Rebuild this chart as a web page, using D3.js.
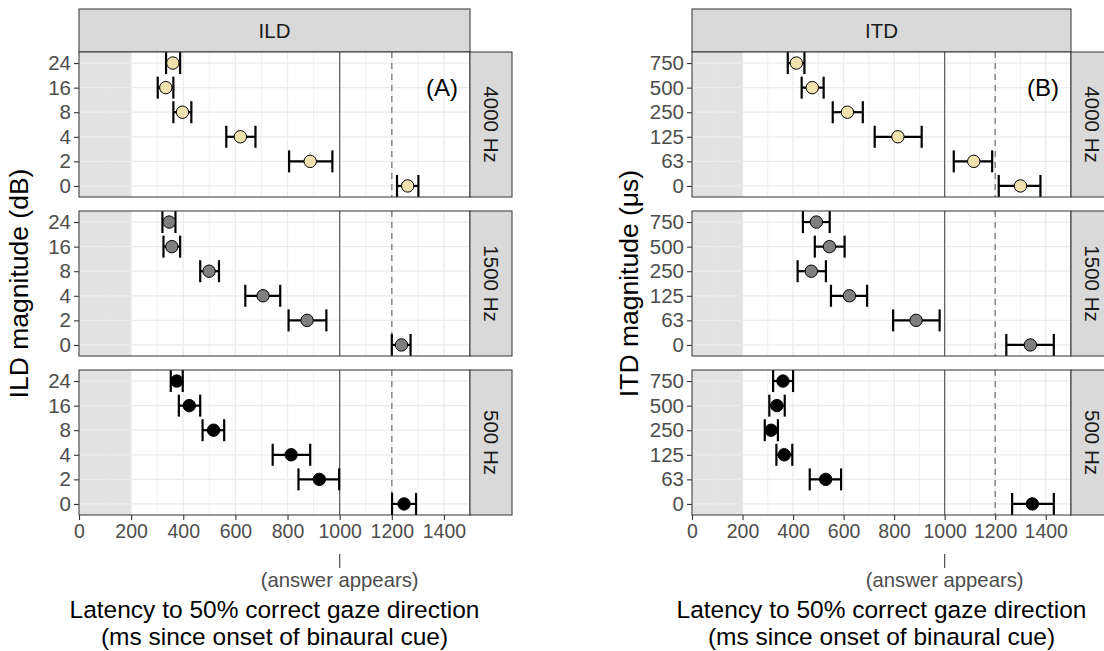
<!DOCTYPE html>
<html><head><meta charset="utf-8">
<script src="https://cdn.jsdelivr.net/npm/d3@7"></script>
<style>body{margin:0;background:#fff}svg{display:block;font-family:"Liberation Sans",Arial,sans-serif}</style>
</head><body>
<svg id="c" width="1104" height="651"></svg>
<script>
// ---- data ----
const freqs = ["4000 Hz", "1500 Hz", "500 Hz"];
const ildLevels = ["24", "16", "8", "4", "2", "0"];
const itdLevels = ["750", "500", "250", "125", "63", "0"];
const xTicks = [0, 200, 400, 600, 800, 1000, 1200, 1400];
// each row: [mean, lower, upper] in ms, in level order
const ild4000 = [[360,334,388],[333,302,362],[397,362,431],[619,565,677],[887,806,972],[1261,1220,1302]];
const ild1500 = [[346,320,370],[356,324,388],[499,465,537],[706,638,772],[875,804,949],[1237,1200,1272]];
const ild500  = [[375,352,398],[423,383,465],[516,474,557],[814,743,887],[922,842,998],[1247,1201,1293]];
const itd4000 = [[413,379,445],[476,434,521],[615,557,676],[815,723,909],[1115,1036,1188],[1300,1214,1379]];
const itd1500 = [[492,439,545],[544,486,604],[472,418,530],[623,550,693],[887,796,980],[1339,1244,1432]];
const itd500  = [[360,321,400],[336,306,367],[313,288,340],[365,334,397],[529,466,590],[1347,1267,1432]];
const pointColors = ["#F1E1AF", "#7f7f7f", "#000000"];

const svg = d3.select("#c");
const panelTops = [52, 211, 370];
const panelH = 145;
const FF = "Liberation Sans, Arial, sans-serif";

function facet(cfg) {
  const x = d3.scaleLinear().domain([0, 1500]).range([cfg.x0, cfg.x1]);
  const g = svg.append("g");
  // top strip
  g.append("rect").attr("x", cfg.x0).attr("y", 9).attr("width", cfg.x1 - cfg.x0).attr("height", 43)
    .attr("fill", "#d9d9d9").attr("stroke", "#333").attr("stroke-width", 1);
  g.append("text").attr("x", (cfg.x0 + cfg.x1) / 2).attr("y", 38).attr("text-anchor", "middle")
    .attr("font-size", 20.5).attr("fill", "#1a1a1a").text(cfg.title);

  cfg.data.forEach((rows, i) => {
    const top = panelTops[i], bot = top + panelH;
    const y = d3.scalePoint().domain(cfg.levels).range([top, bot]).padding(0.45);
    const p = g.append("g");
    p.append("rect").attr("x", cfg.x0).attr("y", top).attr("width", cfg.x1 - cfg.x0).attr("height", panelH).attr("fill", "#fff");
    // shaded band 0-200
    p.append("rect").attr("x", x(0)).attr("y", top).attr("width", x(200) - x(0)).attr("height", panelH).attr("fill", "#e2e2e2");
    // minor grid
    d3.range(100, 1500, 200).forEach(v => p.append("line").attr("x1", x(v)).attr("x2", x(v)).attr("y1", top).attr("y2", bot)
      .attr("stroke", "#ebebeb").attr("stroke-width", 0.7).attr("opacity", v < 200 ? 0.6 : 1));
    // major grid
    xTicks.forEach(v => p.append("line").attr("x1", x(v)).attr("x2", x(v)).attr("y1", top).attr("y2", bot)
      .attr("stroke", "#ebebeb").attr("stroke-width", 1.3).attr("opacity", v < 200 ? 0.6 : 1));
    cfg.levels.forEach(l => p.append("line").attr("x1", cfg.x0).attr("x2", cfg.x1).attr("y1", y(l)).attr("y2", y(l))
      .attr("stroke", "#ebebeb").attr("stroke-width", 1.3));
    // reference lines
    p.append("line").attr("x1", x(1000)).attr("x2", x(1000)).attr("y1", top).attr("y2", bot).attr("stroke", "#5a5a5a").attr("stroke-width", 1.2);
    p.append("line").attr("x1", x(1200)).attr("x2", x(1200)).attr("y1", top).attr("y2", bot).attr("stroke", "#888").attr("stroke-width", 1.5).attr("stroke-dasharray", "6,5");
    // error bars
    const eb = p.append("g").attr("stroke", "#000").attr("stroke-width", 2.2);
    rows.forEach((r, k) => {
      const yy = y(cfg.levels[k]);
      eb.append("line").attr("x1", x(r[1])).attr("x2", x(r[2])).attr("y1", yy).attr("y2", yy);
      eb.append("line").attr("x1", x(r[1])).attr("x2", x(r[1])).attr("y1", yy - 11).attr("y2", yy + 11);
      eb.append("line").attr("x1", x(r[2])).attr("x2", x(r[2])).attr("y1", yy - 11).attr("y2", yy + 11);
    });
    rows.forEach((r, k) => {
      p.append("circle").attr("cx", x(r[0])).attr("cy", y(cfg.levels[k])).attr("r", 6.2)
        .attr("fill", pointColors[i]).attr("stroke", "#000").attr("stroke-width", 1);
    });
    // panel border
    p.append("rect").attr("x", cfg.x0).attr("y", top).attr("width", cfg.x1 - cfg.x0).attr("height", panelH)
      .attr("fill", "none").attr("stroke", "#333").attr("stroke-width", 1);
    // right strip
    p.append("rect").attr("x", cfg.x1).attr("y", top).attr("width", 42).attr("height", panelH)
      .attr("fill", "#d9d9d9").attr("stroke", "#333").attr("stroke-width", 1);
    p.append("text").attr("transform", `translate(${cfg.x1 + 21 - 7},${top + panelH / 2}) rotate(90)`)
      .attr("text-anchor", "middle").attr("font-size", 20.5).attr("fill", "#1a1a1a").text(freqs[i]);
    // y axis
    const ya = p.append("g").attr("transform", `translate(${cfg.x0},0)`).call(d3.axisLeft(y).tickSize(5).tickPadding(3));
    ya.select(".domain").remove();
    ya.selectAll(".tick line").attr("stroke", "#333").attr("stroke-width", 1.1);
    ya.selectAll(".tick text").attr("font-size", 20.5).attr("fill", "#4d4d4d").attr("font-family", FF);
    if (i === 0) {
      p.append("text").attr("x", cfg.x1 - 12).attr("y", 96).attr("text-anchor", "end").attr("font-size", 24).attr("fill", "#000").text(cfg.tag);
    }
    if (i === 2) {
      const xa = p.append("g").attr("transform", `translate(0,${bot})`)
        .call(d3.axisBottom(x).tickValues(xTicks).tickFormat(d3.format("d")).tickSize(5).tickPadding(4));
      xa.select(".domain").remove();
      xa.selectAll(".tick line").attr("stroke", "#333").attr("stroke-width", 1.1);
      xa.selectAll(".tick text").attr("font-size", 19.5).attr("fill", "#4d4d4d").attr("font-family", FF);
      p.append("line").attr("x1", x(1000)).attr("x2", x(1000)).attr("y1", 554).attr("y2", 568).attr("stroke", "#4d4d4d").attr("stroke-width", 1.2);
      p.append("text").attr("x", x(1000)).attr("y", 587).attr("text-anchor", "middle").attr("font-size", 20.3).attr("fill", "#4d4d4d").text("(answer appears)");
    }
  });
  // y title
  svg.append("text").attr("transform", `translate(${cfg.ytx},${(panelTops[0] + panelTops[2] + panelH) / 2}) rotate(-90)`)
    .attr("text-anchor", "middle").attr("font-size", 26.5).attr("fill", "#000").text(cfg.ytitle);
  // x title (two lines)
  const cx = (cfg.x0 + cfg.x1) / 2;
  svg.append("text").attr("x", cx).attr("y", 618).attr("text-anchor", "middle").attr("font-size", 24.5).attr("fill", "#000").text("Latency to 50% correct gaze direction");
  svg.append("text").attr("x", cx).attr("y", 645).attr("text-anchor", "middle").attr("font-size", 24.5).attr("fill", "#000").text("(ms since onset of binaural cue)");
}

facet({ x0: 79, x1: 470, title: "ILD", tag: "(A)", levels: ildLevels, data: [ild4000, ild1500, ild500], ytitle: "ILD magnitude (dB)", ytx: 28 });
facet({ x0: 692, x1: 1071, title: "ITD", tag: "(B)", levels: itdLevels, data: [itd4000, itd1500, itd500], ytitle: "ITD magnitude (μs)", ytx: 638 });
</script>
</body></html>
